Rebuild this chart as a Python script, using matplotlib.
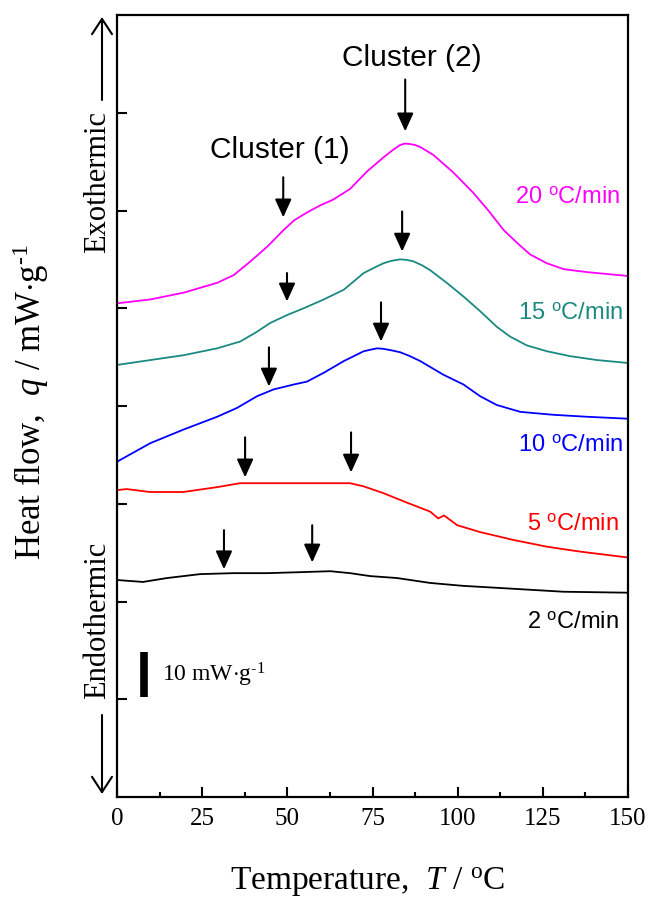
import matplotlib
matplotlib.use("Agg")
import matplotlib.pyplot as plt
from matplotlib.ticker import MultipleLocator

plt.rcParams['mathtext.fontset'] = 'custom'
plt.rcParams['mathtext.rm'] = 'Liberation Serif'
plt.rcParams['mathtext.it'] = 'Liberation Serif:italic'
plt.rcParams['mathtext.sf'] = 'Liberation Sans'

# ---------------- data (heat flow in arbitrary offset units) ----------------
T20 = [0, 9.8, 19.6, 29.4, 34.3, 39.2, 44.1, 48.9, 52.0, 55.8, 59.5, 63.4, 68.4, 73.4, 78.1,
       81.0, 83.1, 84.5, 86.0, 87.5, 89.0, 92.8, 98.7, 104.6, 109.0, 113.5, 117.4, 121.3,
       126.2, 131.1, 137.9, 150]
q20 = [5.05, 5.09, 5.16, 5.26, 5.34, 5.48, 5.63, 5.80, 5.90, 5.98, 6.05, 6.11, 6.22, 6.40, 6.54,
       6.62, 6.67, 6.685, 6.68, 6.67, 6.65, 6.57, 6.39, 6.18, 6.00, 5.80, 5.67, 5.55,
       5.46, 5.40, 5.37, 5.33]

T15 = [0, 9.8, 19.6, 29.4, 36.2, 41.1, 45.0, 49.9, 54.8, 60.7, 66.6, 72.4, 76.4, 78.2, 80.5,
       83.1, 85.0, 87.0, 89.5, 91.9, 96.8, 101.7, 106.6, 111.5, 115.4, 120.3, 126.2, 133.0,
       140.9, 150]
q15 = [4.42, 4.47, 4.52, 4.59, 4.66, 4.76, 4.85, 4.93, 5.00, 5.09, 5.19, 5.36, 5.43, 5.46, 5.485,
       5.50, 5.495, 5.48, 5.44, 5.39, 5.26, 5.12, 4.97, 4.81, 4.71, 4.62, 4.56, 4.51,
       4.47, 4.44]

T10 = [0, 9.8, 19.6, 29.4, 35.2, 41.1, 46.0, 51.9, 55.8, 60.7, 66.6, 72.4, 74.3, 76.3, 78.2,
       80.5, 83.1, 86.0, 89.0, 95.8, 101.7, 106.6, 111.5, 118.4, 128.1, 137.9, 150]
q10 = [3.43, 3.62, 3.76, 3.89, 3.98, 4.10, 4.17, 4.22, 4.25, 4.34, 4.46, 4.56, 4.575, 4.59, 4.585,
       4.57, 4.55, 4.51, 4.46, 4.32, 4.22, 4.10, 4.01, 3.94, 3.91, 3.89, 3.87]

T5 = [0, 2.9, 9.7, 19.4, 29.4, 36.1, 44.1, 53.7, 62.6, 68.4, 72.2, 78.1, 85.2, 91.9, 94.3,
      96.0, 99.9, 106.6, 116.3, 126.3, 136.0, 150]
q5 = [3.14, 3.15, 3.12, 3.12, 3.17, 3.21, 3.21, 3.21, 3.21, 3.21, 3.18, 3.11, 3.01, 2.92, 2.85,
      2.88, 2.78, 2.71, 2.63, 2.56, 2.51, 2.45]

T2 = [0, 7.6, 14.7, 24.4, 34.1, 44.1, 53.7, 62.6, 68.4, 74.3, 82.2, 91.9, 101.6, 111.6,
      121.3, 131.0, 150]
q2 = [2.22, 2.20, 2.24, 2.28, 2.29, 2.29, 2.30, 2.31, 2.29, 2.26, 2.24, 2.19, 2.16, 2.14,
      2.12, 2.10, 2.09]

rate_labels = ['20', '15', '10', '5', '2']
colors = ['#ff00ff', '#1a8a80', '#0000ff', '#ff0000', '#000000']
label_y = [6.14, 4.95, 3.60, 2.79, 1.79]
label_x = [147.7, 148.6, 148.6, 147.3, 147.3]

# arrows: (T, y_top, y_tip)
arrows_T = [48.8, 84.6, 49.9, 83.7, 44.6, 77.5, 37.6, 68.7, 31.4, 57.3]
arrows_top = [6.34, 7.34, 5.36, 5.99, 4.60, 5.06, 3.68, 3.73, 2.73, 2.78]
arrows_tip = [5.93, 6.81, 5.07, 5.58, 4.20, 4.66, 3.27, 3.32, 2.33, 2.40]

xticks = [0, 25, 50, 75, 100, 125, 150]
yticks = [1, 2, 3, 4, 5, 6, 7]

# ---------------- figure ----------------
W, H = 652, 902
fig = plt.figure(figsize=(W / 100, H / 100), dpi=100)
ax = fig.add_axes([117 / W, 1 - 797 / H, 511 / W, 782 / H])

series = [(T20, q20), (T15, q15), (T10, q10), (T5, q5), (T2, q2)]
for (t, q), c in zip(series, colors):
    ax.plot(t, q, color=c, lw=1.3, solid_joinstyle='round')

for lab, c, x, y in zip(rate_labels, colors, label_x, label_y):
    ax.text(x, y, lab + r' $^{\mathsf{o}}$C/min', color=c, fontsize=17,
            family='Liberation Sans', ha='right', va='center')

for t, y0, y1 in zip(arrows_T, arrows_top, arrows_tip):
    ax.annotate('', xy=(t, y1), xytext=(t, y0),
                arrowprops=dict(arrowstyle='-|>,head_length=0.55,head_width=0.25',
                                lw=1.5, color='k', shrinkA=0, shrinkB=0,
                                mutation_scale=20))

ax.text(86.6, 7.56, 'Cluster (2)', fontsize=21.5, family='Liberation Sans',
        ha='center', va='center')
ax.text(47.9, 6.62, 'Cluster (1)', fontsize=21.5, family='Liberation Sans',
        ha='center', va='center')

# scale bar
ax.plot([7.8, 7.8], [1.02, 1.48], color='k', lw=5.5, solid_capstyle='butt')
ax.text(13.2, 1.25, r'10 mW$\cdot$g$^{\text{-}1}$', fontsize=17, family='Liberation Serif',
        ha='left', va='center')

ax.set_xlim(0, 150)
ax.set_ylim(0, 8)
ax.set_xticks(xticks)
ax.xaxis.set_minor_locator(MultipleLocator(12.5))
ax.set_yticks(yticks)
ax.set_yticklabels([])
ax.tick_params(axis='x', which='major', direction='in', length=7, width=1.5,
               labelsize=18, pad=8)
ax.tick_params(axis='x', which='minor', direction='in', length=3.5, width=1.5)
ax.tick_params(axis='y', which='major', direction='in', length=7, width=1.5)
for lab in ax.get_xticklabels():
    lab.set_family('Liberation Serif')
for s in ax.spines.values():
    s.set_linewidth(1.6)

# axis labels
fig.text(368 / W, 1 - 890 / H, r'Temperature,  $T$ / $^{\rm o}$C', fontsize=24,
         family='Liberation Serif', ha='center', va='baseline')
fig.text(31 / W, 1 - 402 / H, r'Heat flow,  $q$ / mW$\cdot$g$^{\text{-}1}$', fontsize=25,
         family='Liberation Serif', ha='center', va='center', rotation=90)

# exothermic / endothermic
fig.text(98 / W, 1 - 182 / H, 'Exothermic', fontsize=22, family='Liberation Serif',
         ha='center', va='center', rotation=90)
fig.text(98 / W, 1 - 620 / H, 'Endothermic', fontsize=22, family='Liberation Serif',
         ha='center', va='center', rotation=90)
ap = dict(arrowstyle='->,head_length=0.55,head_width=0.36', lw=1.5, color='k',
          shrinkA=0, shrinkB=0, mutation_scale=20)
fig.add_artist(matplotlib.patches.FancyArrowPatch((102 / W, 1 - 100 / H), (102 / W, 1 - 17 / H),
               transform=fig.transFigure, **ap))
fig.add_artist(matplotlib.patches.FancyArrowPatch((102 / W, 1 - 715 / H), (102 / W, 1 - 794 / H),
               transform=fig.transFigure, **ap))

fig.savefig('out.png', dpi=100)
